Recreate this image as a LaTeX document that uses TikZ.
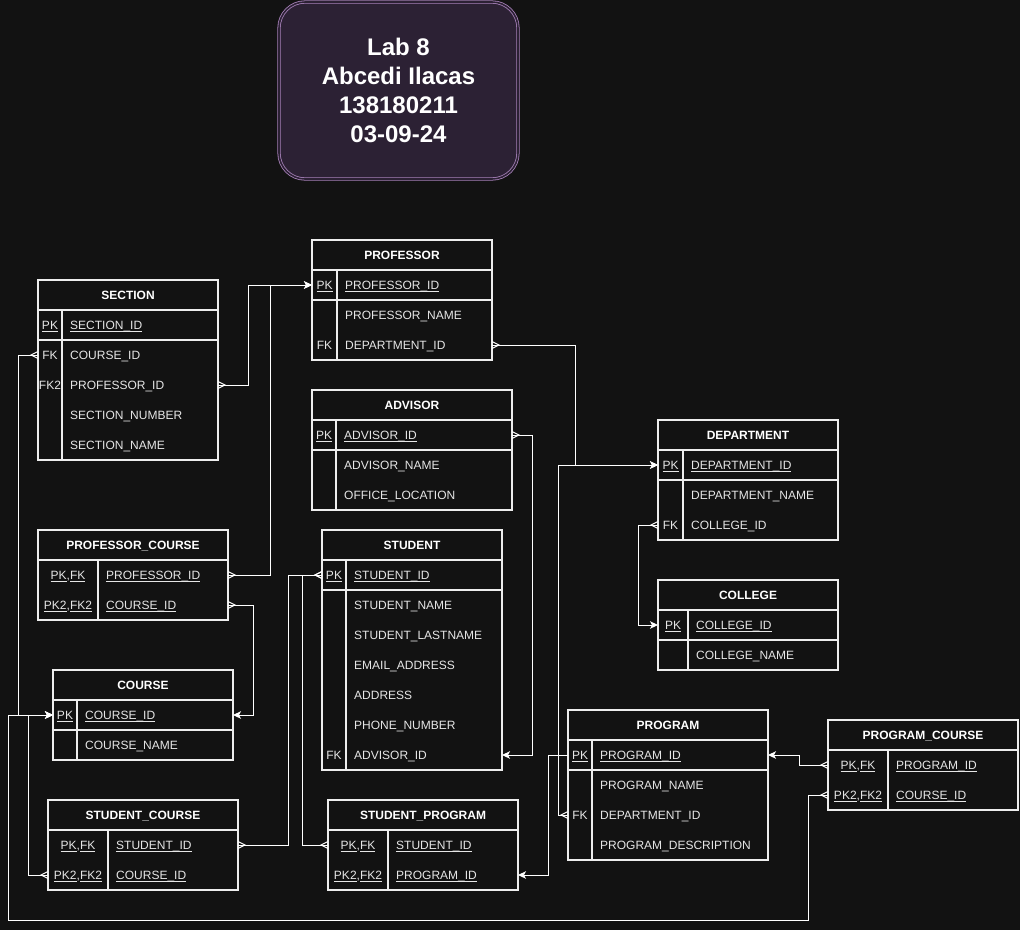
\documentclass[tikz,border=0pt]{standalone}
\usepackage{fontspec}
\setmainfont{Liberation Sans}
\usetikzlibrary{arrows.meta}
\definecolor{bg}{HTML}{121212}
\definecolor{ln}{HTML}{EDEDED}
\definecolor{tx}{HTML}{E6E6E6}
\definecolor{tfill}{HTML}{2C2134}
\definecolor{tbord}{HTML}{A680B8}

\newcommand\ulx[1]{\leavevmode\setbox0\hbox{#1}\rlap{\rule[-2.3pt]{\wd0}{0.8pt}}\box0}

\pgfdeclarearrow{
  name = Crow,
  setup code = {
    \pgfarrowssettipend{0pt}
    \pgfarrowssetlineend{0pt}
    \pgfarrowssetbackend{-7pt}
    \pgfarrowssetvisualbackend{-7pt}
    \pgfarrowsupperhullpoint{0pt}{3.5pt}
    \pgfarrowsupperhullpoint{-7pt}{0pt}
  },
  drawing code = {
    \pgfsetdash{}{0pt}
    \pgfpathmoveto{\pgfqpoint{0pt}{3.5pt}}
    \pgfpathlineto{\pgfqpoint{-7pt}{0pt}}
    \pgfpathlineto{\pgfqpoint{0pt}{-3.5pt}}
    \pgfusepathqstroke
  },
}

\tikzset{
  frame/.style={draw=ln, line width=1.5pt, anchor=north west, inner sep=0pt, outer sep=0pt},
  tline/.style={draw=ln, line width=1.5pt},
  rowbox/.style={anchor=north west, minimum height=30, inner sep=0pt, outer sep=0pt},
  hdr/.style={text=white, font=\fontsize{12}{14}\selectfont\bfseries, inner sep=0pt, text height=8.6pt, text depth=0pt},
  keyt/.style={text=tx, font=\fontsize{12}{14}\selectfont, inner sep=0pt, text height=8.6pt, text depth=0pt},
  fldt/.style={keyt, anchor=west},
  conn/.style={draw=white, line width=1pt},
  >={Stealth[length=8pt,width=7.5pt,inset=2pt]},
  titlebox/.style={draw=tbord, double=tfill, double distance=1.6pt, line width=0.8pt, fill=tfill,
    rounded corners=26pt, minimum width=239, minimum height=177, text=white, align=center,
    font=\fontsize{24}{28.8}\selectfont\bfseries},
}

% #1 name, #2 x, #3 y, #4 width, #5 height, #6 key column width, #7 title
\newcommand\ertable[7]{%
  \node[frame, minimum width=#4, minimum height=#5] (#1) at (#2,#3) {};
  \node[hdr] (#1-h) at (#2+#4/2,#3+15) {#7};
  \draw[tline] (#2,#3+30) -- (#2+#4,#3+30);
  \draw[tline] (#2+#6,#3+30) -- (#2+#6,#3+#5);
}
% #1 name, #2 x, #3 y, #4 width, #5 key column width, #6 key, #7 field
\newcommand\erow[7]{%
  \node[rowbox, minimum width=#4] (#1) at (#2,#3) {};
  \node[keyt] (#1-k) at (#2+#5/2,#3+15) {#6};
  \node[fldt] (#1-f) at (#2+#5+8,#3+15) {#7};
}

\begin{document}
\begin{tikzpicture}[x=1pt,y=-1pt]
\fill[bg] (0,0) rectangle (1020,930);
\useasboundingbox (0,0) rectangle (1020,930);

% title
\node[titlebox] (title) at (398.5,90.5) {Lab 8\\Abcedi Ilacas\\138180211\\03-09-24};

% SECTION
\ertable{sec}{38}{280}{180}{180}{24}{SECTION}
\erow{sec-pk}{38}{310}{180}{24}{\ulx{PK}}{\ulx{SECTION\_ID}}
\erow{sec-crs}{38}{340}{180}{24}{FK}{COURSE\_ID}
\erow{sec-prof}{38}{370}{180}{24}{FK2}{PROFESSOR\_ID}
\erow{sec-num}{38}{400}{180}{24}{}{SECTION\_NUMBER}
\erow{sec-name}{38}{430}{180}{24}{}{SECTION\_NAME}
\draw[tline] (sec-pk.south west) -- (sec-pk.south east);

% PROFESSOR
\ertable{prof}{312}{240}{180}{120}{25}{PROFESSOR}
\erow{prof-pk}{312}{270}{180}{25}{\ulx{PK}}{\ulx{PROFESSOR\_ID}}
\erow{prof-name}{312}{300}{180}{25}{}{PROFESSOR\_NAME}
\erow{prof-dept}{312}{330}{180}{25}{FK}{DEPARTMENT\_ID}
\draw[tline] (prof-pk.south west) -- (prof-pk.south east);

% ADVISOR
\ertable{adv}{312}{390}{200}{120}{24}{ADVISOR}
\erow{adv-pk}{312}{420}{200}{24}{\ulx{PK}}{\ulx{ADVISOR\_ID}}
\erow{adv-name}{312}{450}{200}{24}{}{ADVISOR\_NAME}
\erow{adv-loc}{312}{480}{200}{24}{}{OFFICE\_LOCATION}
\draw[tline] (adv-pk.south west) -- (adv-pk.south east);

% DEPARTMENT
\ertable{dept}{658}{420}{180}{120}{25}{DEPARTMENT}
\erow{dept-pk}{658}{450}{180}{25}{\ulx{PK}}{\ulx{DEPARTMENT\_ID}}
\erow{dept-name}{658}{480}{180}{25}{}{DEPARTMENT\_NAME}
\erow{dept-col}{658}{510}{180}{25}{FK}{COLLEGE\_ID}
\draw[tline] (dept-pk.south west) -- (dept-pk.south east);

% COLLEGE
\ertable{col}{658}{580}{180}{90}{30}{COLLEGE}
\erow{col-pk}{658}{610}{180}{30}{\ulx{PK}}{\ulx{COLLEGE\_ID}}
\erow{col-name}{658}{640}{180}{30}{}{COLLEGE\_NAME}
\draw[tline] (col-pk.south west) -- (col-pk.south east);

% PROFESSOR_COURSE
\ertable{pc}{38}{530}{190}{90}{60}{PROFESSOR\_COURSE}
\erow{pc-prof}{38}{560}{190}{60}{\ulx{PK},\ulx{FK}}{\ulx{PROFESSOR\_ID}}
\erow{pc-crs}{38}{590}{190}{60}{\ulx{PK2},\ulx{FK2}}{\ulx{COURSE\_ID}}

% COURSE
\ertable{course}{53}{670}{180}{90}{24}{COURSE}
\erow{course-pk}{53}{700}{180}{24}{\ulx{PK}}{\ulx{COURSE\_ID}}
\erow{course-name}{53}{730}{180}{24}{}{COURSE\_NAME}
\draw[tline] (course-pk.south west) -- (course-pk.south east);

% STUDENT
\ertable{stu}{322}{530}{180}{240}{24}{STUDENT}
\erow{stu-pk}{322}{560}{180}{24}{\ulx{PK}}{\ulx{STUDENT\_ID}}
\erow{stu-name}{322}{590}{180}{24}{}{STUDENT\_NAME}
\erow{stu-last}{322}{620}{180}{24}{}{STUDENT\_LASTNAME}
\erow{stu-mail}{322}{650}{180}{24}{}{EMAIL\_ADDRESS}
\erow{stu-addr}{322}{680}{180}{24}{}{ADDRESS}
\erow{stu-phone}{322}{710}{180}{24}{}{PHONE\_NUMBER}
\erow{stu-adv}{322}{740}{180}{24}{FK}{ADVISOR\_ID}
\draw[tline] (stu-pk.south west) -- (stu-pk.south east);

% STUDENT_COURSE
\ertable{sc}{48}{800}{190}{90}{60}{STUDENT\_COURSE}
\erow{sc-stu}{48}{830}{190}{60}{\ulx{PK},\ulx{FK}}{\ulx{STUDENT\_ID}}
\erow{sc-crs}{48}{860}{190}{60}{\ulx{PK2},\ulx{FK2}}{\ulx{COURSE\_ID}}

% STUDENT_PROGRAM
\ertable{sp}{328}{800}{190}{90}{60}{STUDENT\_PROGRAM}
\erow{sp-stu}{328}{830}{190}{60}{\ulx{PK},\ulx{FK}}{\ulx{STUDENT\_ID}}
\erow{sp-prog}{328}{860}{190}{60}{\ulx{PK2},\ulx{FK2}}{\ulx{PROGRAM\_ID}}

% PROGRAM
\ertable{prog}{568}{710}{200}{150}{24}{PROGRAM}
\erow{prog-pk}{568}{740}{200}{24}{\ulx{PK}}{\ulx{PROGRAM\_ID}}
\erow{prog-name}{568}{770}{200}{24}{}{PROGRAM\_NAME}
\erow{prog-dept}{568}{800}{200}{24}{FK}{DEPARTMENT\_ID}
\erow{prog-desc}{568}{830}{200}{24}{}{PROGRAM\_DESCRIPTION}
\draw[tline] (prog-pk.south west) -- (prog-pk.south east);

% PROGRAM_COURSE
\ertable{pgc}{828}{720}{190}{90}{60}{PROGRAM\_COURSE}
\erow{pgc-prog}{828}{750}{190}{60}{\ulx{PK},\ulx{FK}}{\ulx{PROGRAM\_ID}}
\erow{pgc-crs}{828}{780}{190}{60}{\ulx{PK2},\ulx{FK2}}{\ulx{COURSE\_ID}}

% connectors
\coordinate (loop) at (8,920);
\draw[conn, Crow->] (sec-prof.east) -- ++(30,0) |- (prof-pk.west);
\draw[conn, Crow->] (pc-prof.east) -- ++(42,0) |- (prof-pk.west);
\draw[conn, Crow->] (prof-dept.east) -- ++(83,0) |- (dept-pk.west);
\draw[conn, Crow->] (prog-dept.west) -- ++(-10,0) |- (dept-pk.west);
\draw[conn, Crow->] (adv-pk.east) -- ++(20,0) |- (stu-adv.east);
\draw[conn, Crow->] (dept-col.west) -- ++(-20,0) |- (col-pk.west);
\draw[conn, Crow-Crow] (sc-stu.east) -- ++(50,0) |- (stu-pk.west);
\draw[conn, Crow-Crow] (sp-stu.west) -- ++(-26,0) |- (stu-pk.west);
\draw[conn, Crow->] (pc-crs.east) -- ++(25,0) |- (course-pk.east);
\draw[conn, ->] (prog-pk.west) -- ++(-20,0) |- (sp-prog.east);
\draw[conn, Crow->] (pgc-prog.west) -- ++(-29,0) |- (prog-pk.east);
\draw[conn, Crow->] (pgc-crs.west) -- ++(-20,0) |- (loop) |- (course-pk.west);
\draw[conn, Crow->] (sec-crs.west) -- ++(-20,0) |- (course-pk.west);
\draw[conn, Crow->] (sc-crs.west) -- ++(-20,0) |- (course-pk.west);
\end{tikzpicture}
\end{document}
